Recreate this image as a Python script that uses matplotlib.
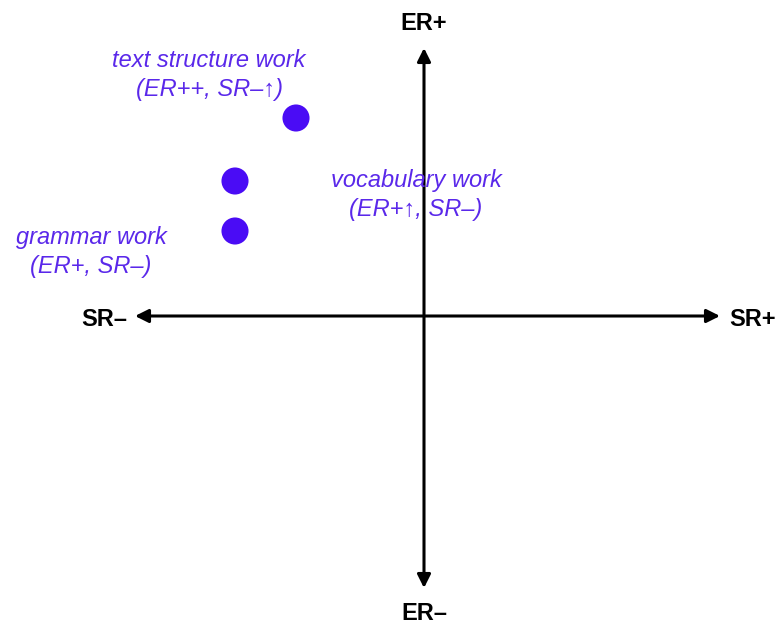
"""Квадрантная диаграмма: ER / SR."""

import matplotlib
matplotlib.use("Agg")
import matplotlib.pyplot as plt

plt.rcParams["font.family"] = ["Liberation Sans", "DejaVu Sans"]

# Точки (условные координаты относительно пересечения осей)
point_x = [-128, -189, -189]
point_y = [198, 135, 85]

labels = [
    "text structure work\n(ER++, SR–↑)",
    "vocabulary work\n(ER+↑, SR–)",
    "grammar work\n(ER+, SR–)",
]
label_x = [-215, -8, -333]
label_y = [241, 121, 64]

axis_names = ["ER+", "ER–", "SR–", "SR+"]

PURPLE = "#4a0cf5"
TEXT_PURPLE = "#5a28ea"

fig = plt.figure(figsize=(7.81, 6.27), dpi=100)
ax = fig.add_axes([0, 0, 1, 1])
ax.set_xlim(-424, 357)
ax.set_ylim(-311, 316)
ax.axis("off")

arrow = dict(arrowstyle="<|-|>", color="black", lw=2.2, mutation_scale=20,
             shrinkA=0, shrinkB=0)
ax.annotate("", xy=(296, 0), xytext=(-289, 0), arrowprops=arrow)
ax.annotate("", xy=(0, 268), xytext=(0, -272), arrowprops=arrow)

ax.text(0, 293, axis_names[0], ha="center", va="center", fontsize=17, fontweight="bold")
ax.text(0, -297, axis_names[1], ha="center", va="center", fontsize=17, fontweight="bold")
ax.text(-320, -3, axis_names[2], ha="center", va="center", fontsize=17, fontweight="bold")
ax.text(329, -3, axis_names[3], ha="center", va="center", fontsize=17, fontweight="bold")

ax.scatter(point_x, point_y, s=380, color=PURPLE, zorder=3, edgecolors="none")

for lx, ly, lab in zip(label_x, label_y, labels):
    ax.text(lx, ly, lab, ha="center", va="center", fontsize=17, style="italic",
            color=TEXT_PURPLE, linespacing=1.38)

fig.savefig("out.png")
plt.close(fig)
